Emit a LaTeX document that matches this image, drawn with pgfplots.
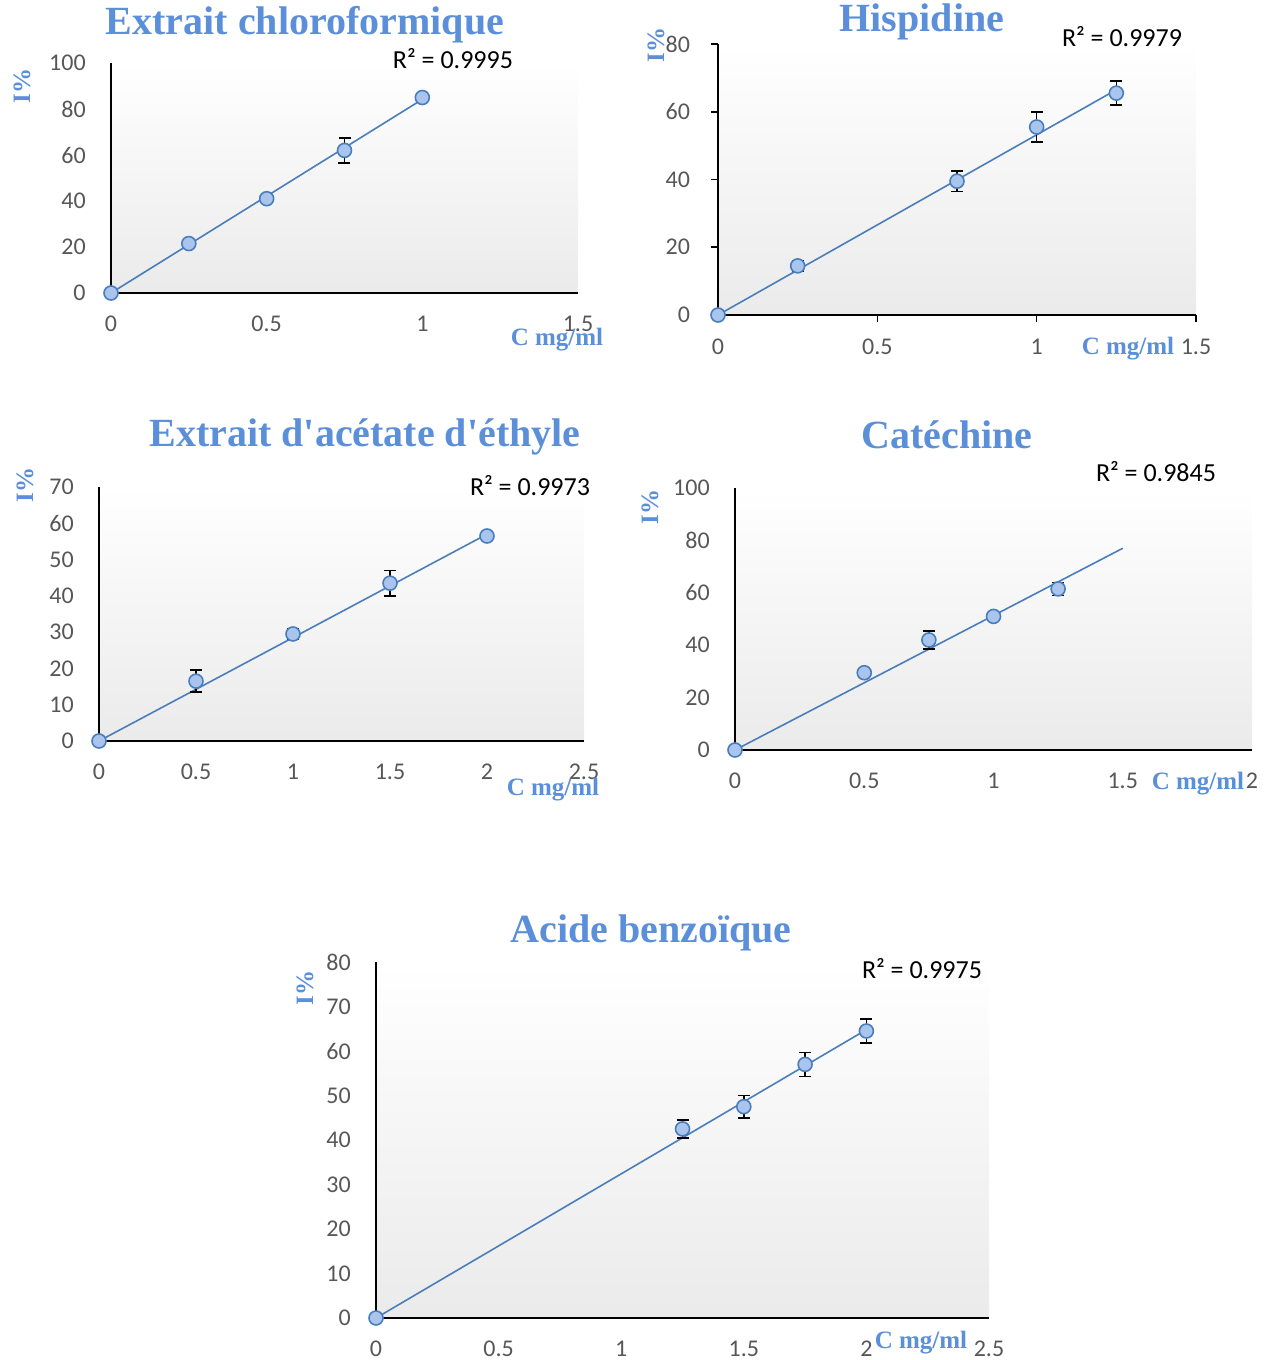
\documentclass[border=0pt]{standalone}
\usepackage{fontspec}
\usepackage{pgfplots}
\pgfplotsset{compat=1.18}
\setmainfont{Carlito}
\newfontfamily\carlito{Carlito}
\newfontfamily\titlefont{Liberation Serif}
\definecolor{titleblue}{HTML}{5B8FD9}
\definecolor{lineblue}{HTML}{4A7EBB}
\definecolor{markfill}{HTML}{A9C5EE}
\pgfplotsset{
  panel/.style={
    scale only axis, axis lines=left, axis line style={-, line width=0.9pt, black},
    enlargelimits=false, xmin=0, ymin=0, anchor=south west, clip=false,
    tick style={draw=none},
    ticklabel style={font=\carlito\fontsize{12}{14}\selectfont, text=black!66},
    xticklabel style={yshift=-6pt}, yticklabel style={xshift=-7pt},
    /pgf/number format/assume math mode=true,
    axis background/.style={top color=white, bottom color=black!8},
  },
  trend/.style={no marks, line width=0.8pt, color=lineblue},
  pts/.style={only marks, mark=*, mark size=3.5pt,
    mark options={fill=markfill, draw=lineblue, line width=0.8pt},
    error bars/.cd, y dir=both, y explicit,
    error bar style={black, line width=0.8pt},
    error mark options={rotate=90, mark size=3pt, black, line width=0.8pt}},
}
\tikzset{
  ttl/.style={font=\titlefont\bfseries\fontsize{20}{22}\selectfont, text=titleblue},
  lab/.style={font=\titlefont\bfseries\fontsize{12.5}{14}\selectfont, text=titleblue},
  rr/.style={font=\carlito\fontsize{13}{15}\selectfont, text=black},
}
\begin{document}
\begin{tikzpicture}[x=0.5pt,y=-0.5pt]
\path[use as bounding box] (0,0) rectangle (1278,1360);

% Panel 1
\begin{axis}[panel, at={(55.5pt,-146.5pt)}, width=233.5pt, height=115pt,
  xmax=1.5, ymax=100, xtick={0,0.5,1,1.5}, ytick={0,20,...,100}]
\addplot[trend] coordinates {(0,0) (1,84.2)};
\addplot[pts] coordinates {(0,0) +- (0,0.5) (0.25,21.5) +- (0,1.5) (0.5,41) +- (0,1) (0.75,62) +- (0,5.5) (1,85) +- (0,1)};
\end{axis}

% Panel 2
\begin{axis}[panel, at={(359pt,-157.5pt)}, width=239pt, height=135.5pt,
  xmax=1.5, ymax=80, xtick={0,0.5,1,1.5}, ytick={0,20,...,80},
  tick style={draw=black, line width=0.8pt}, tick align=outside, major tick length=3.5pt,
  xticklabel style={yshift=1pt}]
\addplot[trend] coordinates {(0,0) (1.25,66.5)};
\addplot[pts] coordinates {(0,0) +- (0,0.5) (0.25,14.5) +- (0,1.5) (0.75,39.5) +- (0,3) (1,55.5) +- (0,4.5) (1.25,65.5) +- (0,3.5)};
\end{axis}

% Panel 3
\begin{axis}[panel, at={(49.5pt,-370.5pt)}, width=242.5pt, height=127pt,
  xmax=2.5, ymax=70, xtick={0,0.5,1,1.5,2,2.5}, ytick={0,10,...,70}]
\addplot[trend] coordinates {(0,0) (2,57)};
\addplot[pts] coordinates {(0,0) +- (0,0.3) (0.5,16.5) +- (0,3) (1,29.5) +- (0,1.5) (1.5,43.5) +- (0,3.5) (2,56.5) +- (0,0.5)};
\end{axis}

% Panel 4
\begin{axis}[panel, at={(367.5pt,-375pt)}, width=258.5pt, height=131pt,
  xmax=2, ymax=100, xtick={0,0.5,1,1.5,2}, ytick={0,20,...,100}]
\addplot[trend] coordinates {(0,0) (1.5,77)};
\addplot[pts] coordinates {(0,0) +- (0,0.5) (0.5,29.5) +- (0,1.5) (0.75,42) +- (0,3.5) (1,51) +- (0,1.5) (1.25,61.5) +- (0,2.5)};
\end{axis}

% Panel 5
\begin{axis}[panel, at={(188pt,-659pt)}, width=306.5pt, height=178pt,
  xmax=2.5, ymax=80, xtick={0,0.5,1,1.5,2,2.5}, ytick={0,10,...,80}]
\addplot[trend] coordinates {(0,0) (2,64.8)};
\addplot[pts] coordinates {(0,0) +- (0,0.3) (1.25,42.5) +- (0,2) (1.5,47.5) +- (0,2.5) (1.75,57) +- (0,2.7) (2,64.5) +- (0,2.7)};
\end{axis}

% Texts
\node[ttl] at (305,25) {Extrait chloroformique};
\node[rr] at (453,59) {R² = 0.9995};
\node[lab, rotate=90] at (22,86) {I\%};
\node[lab] at (557,340) {C mg/ml};

\node[ttl] at (922,22) {Hispidine};
\node[rr] at (1122,37) {R² = 0.9979};
\node[lab, rotate=90] at (656,45) {I\%};
\node[lab] at (1128,349) {C mg/ml};

\node[ttl] at (365,437) {Extrait d\textquotesingle acétate d\textquotesingle éthyle};
\node[rr] at (530,486) {R² = 0.9973};
\node[lab, rotate=90] at (25,485) {I\%};
\node[lab] at (553,790) {C mg/ml};

\node[ttl] at (947,435) {Catéchine};
\node[rr] at (1156,472) {R² = 0.9845};
\node[lab, rotate=90] at (650,507) {I\%};
\node[lab] at (1198,784) {C mg/ml};

\node[ttl] at (651,933) {Acide benzoïque};
\node[rr] at (922,969) {R² = 0.9975};
\node[lab, rotate=90] at (305,988) {I\%};
\node[lab] at (921,1343) {C mg/ml};
\end{tikzpicture}
\end{document}
